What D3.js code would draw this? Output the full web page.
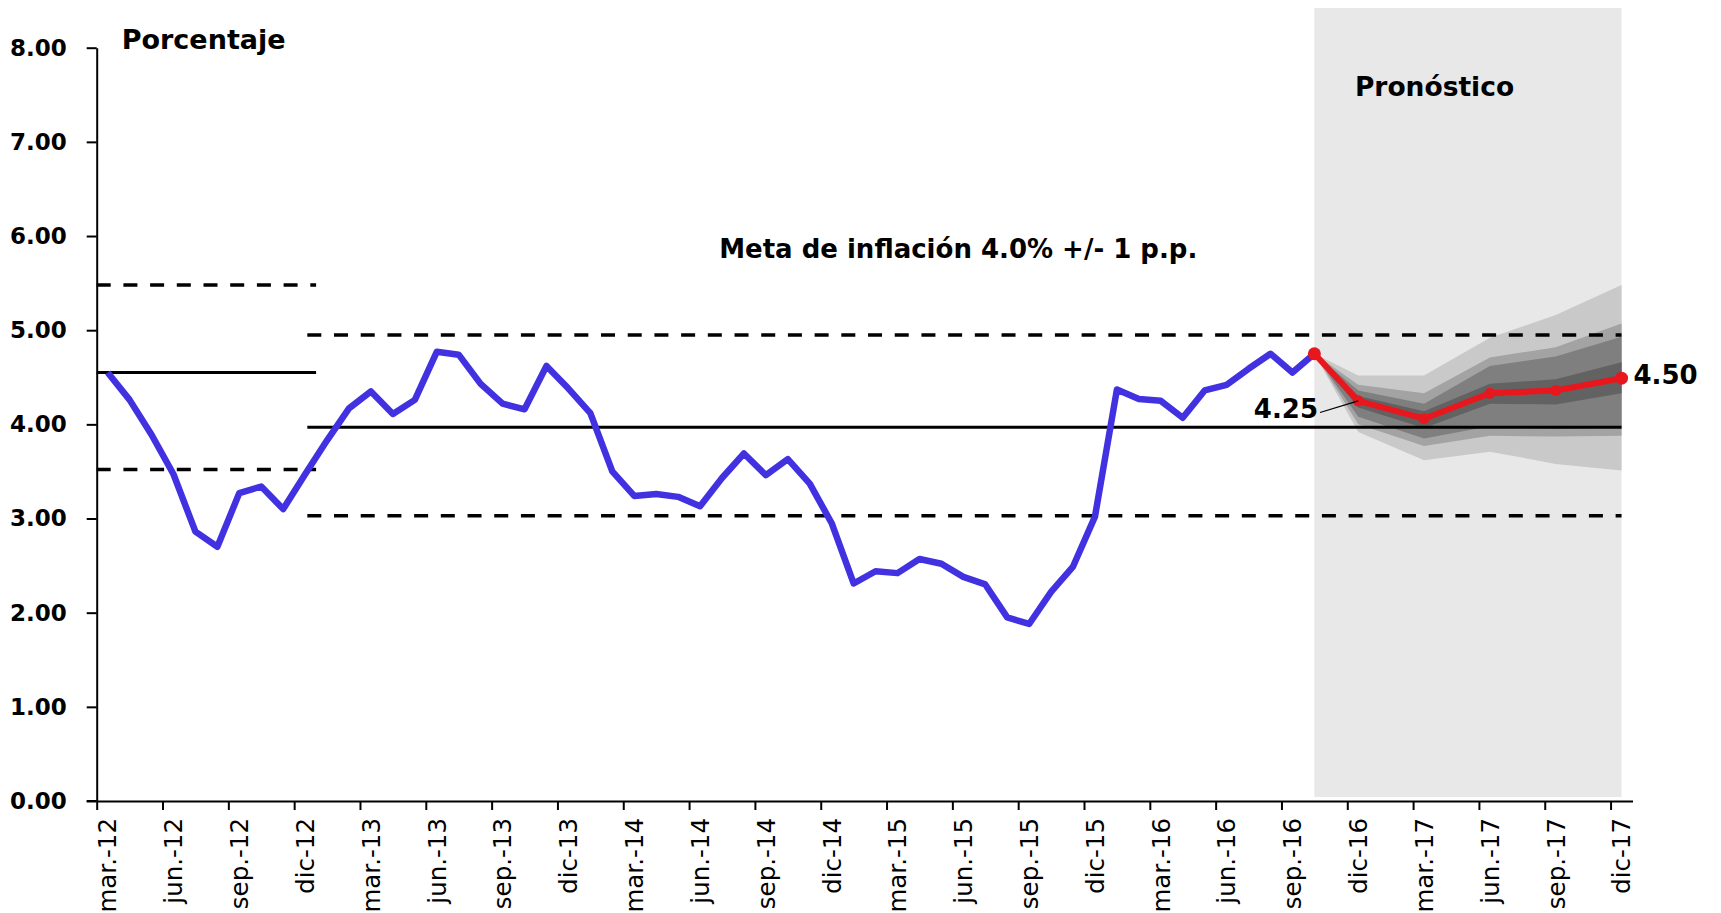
<!DOCTYPE html>
<html>
<head>
<meta charset="utf-8">
<script src="https://cdn.jsdelivr.net/npm/d3@7"></script>
<style>
  html, body { margin: 0; padding: 0; background: #ffffff; }
  svg { display: block; font-family: "DejaVu Sans", Verdana, sans-serif; }
</style>
</head>
<body>
<script>
// ---------------- DATA ----------------
// Monthly inflation (interanual), starting mar-2012 (month index 0) through oct-2016
const inflationStart = 0;
const inflation = [
  4.55, 4.26, 3.89, 3.47, 2.86, 2.70, 3.27, 3.34, 3.10, 3.47, 3.83, 4.17,
  4.35, 4.11, 4.26, 4.77, 4.74, 4.43, 4.22, 4.16, 4.62, 4.38, 4.12, 3.50,
  3.24, 3.26, 3.23, 3.13, 3.43, 3.69, 3.46, 3.63, 3.37, 2.95, 2.31, 2.44,
  2.42, 2.57, 2.52, 2.38, 2.30, 1.95, 1.88, 2.22, 2.49, 3.02, 4.37, 4.27,
  4.25, 4.07, 4.36, 4.42, 4.59, 4.75, 4.55, 4.75
];

// Forecast (month index from mar-12): oct-16, dic-16, mar-17, jun-17, sep-17, dic-17
const forecastMonth = [55, 57, 60, 63, 66, 69];
const forecast      = [4.75, 4.25, 4.06, 4.33, 4.36, 4.49];

// Fan chart bands (upper / lower) at each forecast month
const fanOuterUpper  = [4.75, 4.52, 4.52, 4.92, 5.16, 5.48];
const fanOuterLower  = [4.75, 3.92, 3.62, 3.71, 3.58, 3.51];
const fanMidUpper    = [4.75, 4.42, 4.33, 4.71, 4.82, 5.07];
const fanMidLower    = [4.75, 4.00, 3.77, 3.88, 3.87, 3.88];
const fanDarkUpper   = [4.75, 4.36, 4.22, 4.62, 4.72, 4.93];
const fanDarkLower   = [4.75, 4.08, 3.85, 3.98, 3.95, 3.97];
const fanCoreUpper   = [4.75, 4.30, 4.14, 4.43, 4.48, 4.66];
const fanCoreLower   = [4.75, 4.18, 3.96, 4.22, 4.21, 4.33];

// Inflation target periods (start/end month index) and levels
const targetStart  = [0, 9.6];
const targetEnd    = [10.0, 69.5];
const targetCenter = [4.55, 3.97];
const targetUpper  = [5.48, 4.95];
const targetLower  = [3.52, 3.03];

// Forecast period (month index)
const forecastPeriod = [55.5, 69.5];

// Axis ticks
const yTicks = [0, 1, 2, 3, 4, 5, 6, 7, 8];
const xTickMonths = d3.range(0, 70, 3);
const xTickLabels = [
  "mar.-12","jun.-12","sep.-12","dic-12",
  "mar.-13","jun.-13","sep.-13","dic-13",
  "mar.-14","jun.-14","sep.-14","dic-14",
  "mar.-15","jun.-15","sep.-15","dic-15",
  "mar.-16","jun.-16","sep.-16","dic-16",
  "mar.-17","jun.-17","sep.-17","dic-17"
];

const labelStart = "4.25";
const labelEnd = "4.50";

// ---------------- CHART ----------------
const W = 1721, H = 913;
const svg = d3.select("body").append("svg").attr("width", W).attr("height", H);

const x = d3.scaleLinear().domain([0, 70]).range([96.7, 1632.5]);
const y = d3.scaleLinear().domain([0, 8]).range([801, 47.7]);
const xc = i => x(i + 0.5); // data at month centre

// Forecast shaded area
svg.append("rect")
  .attr("x", xc(forecastPeriod[0] - 0.5))
  .attr("y", 8)
  .attr("width", xc(forecastPeriod[1] - 0.5) - xc(forecastPeriod[0] - 0.5))
  .attr("height", y(0) - 4 - 8)
  .attr("fill", "#e8e8e8");

// Fan bands
const bands = [
  [fanOuterUpper, fanOuterLower, "#c9c9c9"],
  [fanMidUpper, fanMidLower, "#a3a3a3"],
  [fanDarkUpper, fanDarkLower, "#7f7f7f"],
  [fanCoreUpper, fanCoreLower, "#626262"]
];
bands.forEach(([up, lo, col]) => {
  const area = d3.area()
    .x((d, i) => xc(forecastMonth[i]))
    .y0((d, i) => y(lo[i]))
    .y1((d, i) => y(up[i]));
  svg.append("path").datum(up).attr("d", area).attr("fill", col);
});

// Target lines
targetStart.forEach((s, k) => {
  const e = targetEnd[k];
  svg.append("line").attr("x1", x(s)).attr("x2", x(e))
    .attr("y1", y(targetCenter[k])).attr("y2", y(targetCenter[k]))
    .attr("stroke", "#000").attr("stroke-width", 3);
  [targetUpper[k], targetLower[k]].forEach(v => {
    svg.append("line").attr("x1", x(s)).attr("x2", x(e))
      .attr("y1", y(v)).attr("y2", y(v))
      .attr("stroke", "#000").attr("stroke-width", 3.5)
      .attr("stroke-dasharray", "14,12.7");
  });
});

// Observed inflation line
const line = d3.line().x(d => xc(d[0])).y(d => y(d[1]));
svg.append("path")
  .datum(inflation.map((v, i) => [inflationStart + i, v]))
  .attr("d", line)
  .attr("fill", "none").attr("stroke", "#4131e0")
  .attr("stroke-width", 6.5).attr("stroke-linejoin", "round");

// Forecast line
const fData = forecast.map((v, i) => [forecastMonth[i], v]);
svg.append("path").datum(fData).attr("d", line)
  .attr("fill", "none").attr("stroke", "#e8171e")
  .attr("stroke-width", 6).attr("stroke-linejoin", "round");
svg.selectAll("circle.f").data(fData).enter().append("circle")
  .attr("cx", d => xc(d[0])).attr("cy", d => y(d[1]))
  .attr("r", (d, i) => (i === 0 || i === fData.length - 1) ? 6.5 : 5.5)
  .attr("fill", "#e8171e");

// Axes
const yAxis = svg.append("g").attr("transform", `translate(${x(0)},0)`)
  .call(d3.axisLeft(y).tickValues(yTicks).tickFormat(d3.format(".2f"))
    .tickSize(10).tickSizeOuter(0).tickPadding(20));
yAxis.selectAll("text").attr("font-size", 23).attr("font-weight", "bold")
  .attr("fill", "#000").attr("font-family", "DejaVu Sans");
yAxis.selectAll("line").attr("stroke-width", 2);
yAxis.select(".domain").attr("stroke-width", 2);

const xAxis = svg.append("g").attr("transform", `translate(0,${y(0)})`)
  .call(d3.axisBottom(x).tickValues(xTickMonths).tickFormat("")
    .tickSize(9).tickSizeOuter(0));
xAxis.selectAll("line").attr("stroke-width", 2);
xAxis.select(".domain").attr("stroke-width", 2);
svg.append("line").attr("x1", x(0) - 10).attr("x2", x(0))
  .attr("y1", y(0)).attr("y2", y(0)).attr("stroke", "#000").attr("stroke-width", 2);

svg.append("g").selectAll("text").data(xTickMonths).enter().append("text")
  .attr("transform", d => `translate(${xc(d)},818) rotate(-90)`)
  .attr("text-anchor", "end").attr("dy", "0.36em")
  .attr("font-size", 24.5).attr("fill", "#000")
  .text((d, i) => xTickLabels[i]);

// Titles / annotations
svg.append("text").attr("x", 121.7).attr("y", 49).attr("font-size", 27)
  .attr("font-weight", "bold").text("Porcentaje");
svg.append("text").attr("x", (714.5 + 1202) / 2).attr("y", 258)
  .attr("text-anchor", "middle").attr("font-size", 26)
  .attr("font-weight", "bold").text("Meta de inflación 4.0% +/- 1 p.p.");
svg.append("text").attr("x", 1434.5).attr("y", 96)
  .attr("text-anchor", "middle").attr("font-size", 26.5)
  .attr("font-weight", "bold").text("Pronóstico");

// Value labels
svg.append("line").attr("x1", 1320).attr("y1", 412.5)
  .attr("x2", xc(forecastMonth[1])).attr("y2", y(forecast[1]))
  .attr("stroke", "#000").attr("stroke-width", 1.3);
svg.append("text").attr("x", 1318).attr("y", 418).attr("text-anchor", "end")
  .attr("font-size", 26).attr("font-weight", "bold").text(labelStart);
svg.append("text").attr("x", xc(forecastMonth[5]) + 12).attr("y", 384)
  .attr("font-size", 26).attr("font-weight", "bold").text(labelEnd);
</script>
</body>
</html>
